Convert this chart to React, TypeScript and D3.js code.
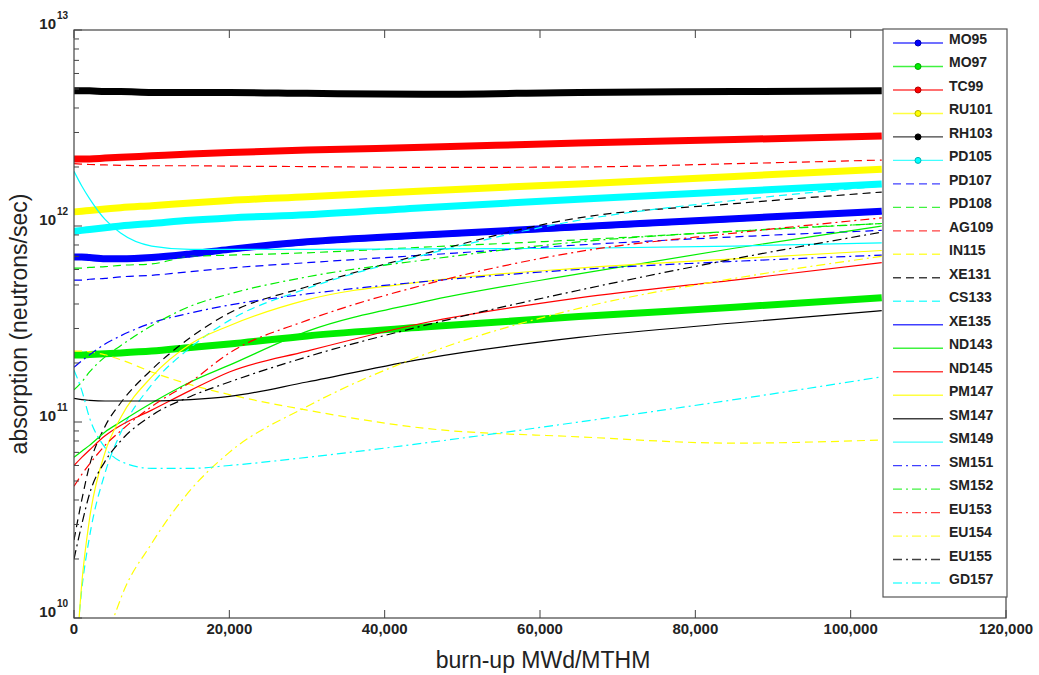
import React from 'react';
import * as d3 from 'd3';

// burn-up sample points (MWd/MTHM)
const BURNUP = [0, 1000, 2000, 4000, 6000, 10000, 15000, 20000, 30000, 45000, 65000, 85000, 104000];

// absorption (neutrons/sec) per isotope
const MO95 = [6.95e11, 6.95e11, 6.9e11, 6.8e11, 6.8e11, 6.9e11, 7.2e11, 7.6e11, 8.3e11, 9.0e11, 9.9e11, 1.09e12, 1.19e12];
const MO97 = [2.2e11, 2.2e11, 2.21e11, 2.23e11, 2.25e11, 2.3e11, 2.4e11, 2.5e11, 2.75e11, 3.05e11, 3.45e11, 3.85e11, 4.3e11];
const TC99 = [2.2e12, 2.2e12, 2.2e12, 2.22e12, 2.24e12, 2.28e12, 2.33e12, 2.37e12, 2.44e12, 2.52e12, 2.65e12, 2.76e12, 2.88e12];
const RU101 = [1.18e12, 1.19e12, 1.2e12, 1.22e12, 1.24e12, 1.27e12, 1.31e12, 1.35e12, 1.41e12, 1.51e12, 1.64e12, 1.79e12, 1.95e12];
const RH103 = [4.9e12, 4.9e12, 4.9e12, 4.85e12, 4.85e12, 4.8e12, 4.8e12, 4.8e12, 4.75e12, 4.7e12, 4.8e12, 4.85e12, 4.9e12];
const PD105 = [9.4e11, 9.5e11, 9.6e11, 9.8e11, 1.0e12, 1.03e12, 1.07e12, 1.1e12, 1.14e12, 1.24e12, 1.37e12, 1.5e12, 1.64e12];
const PD107 = [5.3e11, 5.3e11, 5.35e11, 5.4e11, 5.5e11, 5.6e11, 5.85e11, 6.1e11, 6.5e11, 7.1e11, 8.0e11, 8.8e11, 9.5e11];
const PD108 = [6.1e11, 6.1e11, 6.15e11, 6.2e11, 6.3e11, 6.4e11, 7.0e11, 7.1e11, 7.3e11, 7.8e11, 8.5e11, 9.4e11, 1.03e12];
const AG109 = [2.08e12, 2.07e12, 2.06e12, 2.05e12, 2.04e12, 2.03e12, 2.03e12, 2.02e12, 2.01e12, 1.99e12, 2.0e12, 2.08e12, 2.17e12];
const IN115 = [2.3e11, 2.3e11, 2.28e11, 2.2e11, 2.08e11, 1.8e11, 1.55e11, 1.38e11, 1.15e11, 9.3e10, 8.4e10, 7.8e10, 8.1e10];
const XE131 = [2.5e10, 4e10, 6e10, 9.5e10, 1.25e11, 1.85e11, 2.7e11, 3.6e11, 4.9e11, 7.2e11, 1.1e12, 1.3e12, 1.49e12];
const CS133 = [5e9, 1.4e10, 2.6e10, 5.5e10, 8.8e10, 1.55e11, 2.4e11, 3.3e11, 4.8e11, 7.1e11, 1.07e12, 1.35e12, 1.6e12];
const XE135 = [6.75e11, 6.75e11, 6.7e11, 6.6e11, 6.6e11, 6.7e11, 7.0e11, 7.4e11, 8.05e11, 8.75e11, 9.6e11, 1.06e12, 1.16e12];
const ND143 = [6.6e10, 7.1e10, 7.6e10, 8.9e10, 1.0e11, 1.25e11, 1.6e11, 1.95e11, 2.9e11, 4.1e11, 5.7e11, 7.7e11, 1.0e12];
const ND145 = [6.0e10, 6.6e10, 7.2e10, 8.5e10, 9.6e10, 1.15e11, 1.45e11, 1.8e11, 2.3e11, 3.2e11, 4.3e11, 5.3e11, 6.5e11];
const PM147 = [4e9, 1.5e10, 3.2e10, 7e10, 1.05e11, 1.7e11, 2.5e11, 3.1e11, 4.2e11, 5.2e11, 6.1e11, 6.8e11, 7.5e11];
const SM147 = [1.32e11, 1.3e11, 1.29e11, 1.28e11, 1.28e11, 1.28e11, 1.3e11, 1.35e11, 1.6e11, 2.1e11, 2.7e11, 3.2e11, 3.7e11];
const SM149 = [1.9e12, 1.6e12, 1.38e12, 1.08e12, 9.2e11, 7.9e11, 7.6e11, 7.6e11, 7.6e11, 7.65e11, 7.7e11, 7.9e11, 8.2e11];
const SM151 = [1.9e11, 2.05e11, 2.2e11, 2.5e11, 2.75e11, 3.2e11, 3.6e11, 3.95e11, 4.5e11, 5.2e11, 6.0e11, 6.6e11, 7.1e11];
const SM152 = [1.46e11, 1.6e11, 1.8e11, 2.15e11, 2.45e11, 3.1e11, 3.9e11, 4.5e11, 5.5e11, 6.7e11, 8.3e11, 9.4e11, 1.03e12];
const EU153 = [4.7e10, 5.4e10, 6.1e10, 7.6e10, 9e10, 1.2e11, 1.6e11, 2.25e11, 3.3e11, 5.0e11, 7.4e11, 9.2e11, 1.1e12];
const EU154 = [1e9, 1.5e9, 2.5e9, 7e9, 1.25e10, 2.4e10, 4.5e10, 7e10, 1.2e11, 2.2e11, 3.8e11, 5.4e11, 7e11];
const EU155 = [2e10, 3e10, 4.3e10, 6.3e10, 8e10, 1.08e11, 1.35e11, 1.6e11, 2.15e11, 3.1e11, 4.7e11, 6.8e11, 9.3e11];
const GD157 = [1.84e11, 1.45e11, 1.05e11, 7.4e10, 6.3e10, 5.8e10, 5.8e10, 6.0e10, 6.6e10, 7.8e10, 1.0e11, 1.3e11, 1.7e11];

const ISOTOPES = ['MO95', 'MO97', 'TC99', 'RU101', 'RH103', 'PD105', 'PD107', 'PD108', 'AG109', 'IN115', 'XE131', 'CS133',
  'XE135', 'ND143', 'ND145', 'PM147', 'SM147', 'SM149', 'SM151', 'SM152', 'EU153', 'EU154', 'EU155', 'GD157'];
const SERIES_VALUES = [MO95, MO97, TC99, RU101, RH103, PD105, PD107, PD108, AG109, IN115, XE131, CS133,
  XE135, ND143, ND145, PM147, SM147, SM149, SM151, SM152, EU153, EU154, EU155, GD157];

const X_TICKS = [0, 20000, 40000, 60000, 80000, 100000, 120000];
const Y_EXPONENTS = [10, 11, 12, 13];

const COLORS = ['#0000ff', '#00ee00', '#ff0000', '#ffff00', '#000000', '#00ffff'];
const STYLES = ['thick', 'dash', 'solid', 'dashdot'];

const FONT = 'Liberation Sans, Arial, Helvetica, sans-serif';

export default function App() {
  const W = 1039, H = 675;
  const left = 74, right = 1006, top = 30, bottom = 618;
  const x = d3.scaleLinear().domain([0, 120000]).range([left, right]);
  const y = d3.scaleLog().domain([1e10, 1e13]).range([bottom, top]);
  const line = d3.line<[number, number]>()
    .x(d => x(d[0]))
    .y(d => y(d[1]))
    .curve(d3.curveMonotoneX);

  const series = ISOTOPES.map((name, i) => ({
    name,
    color: COLORS[i % 6],
    style: STYLES[Math.floor(i / 6)],
    points: BURNUP.map((b, j) => [b, SERIES_VALUES[i][j]] as [number, number]),
  }));

  const styleProps = (style: string) => {
    if (style === 'thick') return { strokeWidth: 7, strokeDasharray: undefined };
    if (style === 'dash') return { strokeWidth: 1.2, strokeDasharray: '8 5' };
    if (style === 'dashdot') return { strokeWidth: 1.2, strokeDasharray: '9 4 2 4' };
    return { strokeWidth: 1.2, strokeDasharray: undefined };
  };

  const minorTicks: number[] = [];
  for (let e = 10; e < 13; e++) {
    for (let k = 2; k <= 9; k++) minorTicks.push(k * Math.pow(10, e));
  }

  const legX0 = 883, legX1 = 1007, legY0 = 29, legY1 = 597;
  const legStep = 23.48;
  const legFirst = 43;

  return (
    <svg width={W} height={H} style={{ position: 'absolute', left: 0, top: 0, background: '#fff' }}
      fontFamily={FONT}>
      <defs>
        <clipPath id="plotClip">
          <rect x={left} y={top} width={right - left} height={bottom - top} />
        </clipPath>
      </defs>
      <rect x={0} y={0} width={W} height={H} fill="#fff" />

      {/* series */}
      <g clipPath="url(#plotClip)">
        {series.map(s => {
          const sp = styleProps(s.style);
          return (
            <path key={s.name} d={line(s.points) || ''} fill="none" stroke={s.color}
              strokeWidth={sp.strokeWidth} strokeDasharray={sp.strokeDasharray}
              strokeLinejoin="round" />
          );
        })}
      </g>

      {/* frame */}
      <rect x={left} y={top} width={right - left} height={bottom - top} fill="none" stroke="#444" strokeWidth={1.2} />

      {/* y ticks */}
      {minorTicks.map(v => (
        <g key={'m' + v}>
          <line x1={left} x2={left + 5} y1={y(v)} y2={y(v)} stroke="#444" />
          <line x1={right} x2={right - 5} y1={y(v)} y2={y(v)} stroke="#444" />
        </g>
      ))}
      {Y_EXPONENTS.map(e => (
        <g key={'e' + e}>
          <line x1={left} x2={left + 8} y1={y(Math.pow(10, e))} y2={y(Math.pow(10, e))} stroke="#444" />
          <text x={56} y={y(Math.pow(10, e)) - 1} textAnchor="end" fontSize={15} fontWeight="bold" fill="#222">10</text>
          <text x={57} y={y(Math.pow(10, e)) - 11} textAnchor="start" fontSize={10} fontWeight="bold" fill="#222">{e}</text>
        </g>
      ))}

      {/* x ticks */}
      {X_TICKS.map(t => (
        <g key={'x' + t}>
          <line x1={x(t)} x2={x(t)} y1={bottom} y2={bottom - 8} stroke="#444" />
          <line x1={x(t)} x2={x(t)} y1={top} y2={top + 8} stroke="#444" />
          <text x={x(t)} y={bottom + 16} textAnchor="middle" fontSize={15} fontWeight="bold" fill="#222">
            {d3.format(',')(t)}
          </text>
        </g>
      ))}

      {/* axis titles */}
      <text x={543} y={668} textAnchor="middle" fontSize={23} fill="#222">burn-up MWd/MTHM</text>
      <text transform={`translate(27,${(top + bottom) / 2}) rotate(-90)`} textAnchor="middle" fontSize={23} fill="#222">
        absorption (neutrons/sec)
      </text>

      {/* legend */}
      <rect x={legX0} y={legY0} width={legX1 - legX0} height={legY1 - legY0} fill="#fff" stroke="#555" strokeWidth={1.2} />
      {series.map((s, i) => {
        const ly = legFirst + i * legStep;
        const sp = styleProps(s.style);
        return (
          <g key={'leg' + s.name}>
            <line x1={893} x2={943} y1={ly} y2={ly} stroke={s.color} strokeWidth={1.4}
              strokeDasharray={sp.strokeDasharray} strokeOpacity={0.75} />
            {s.style === 'thick' && (
              <circle cx={918} cy={ly} r={3} fill={s.color} stroke={d3.color(s.color)!.darker(1).toString()} strokeWidth={1} />
            )}
            <text x={949} y={ly + 1} fontSize={14} fontWeight="bold" fill="#222">{s.name}</text>
          </g>
        );
      })}
    </svg>
  );
}
